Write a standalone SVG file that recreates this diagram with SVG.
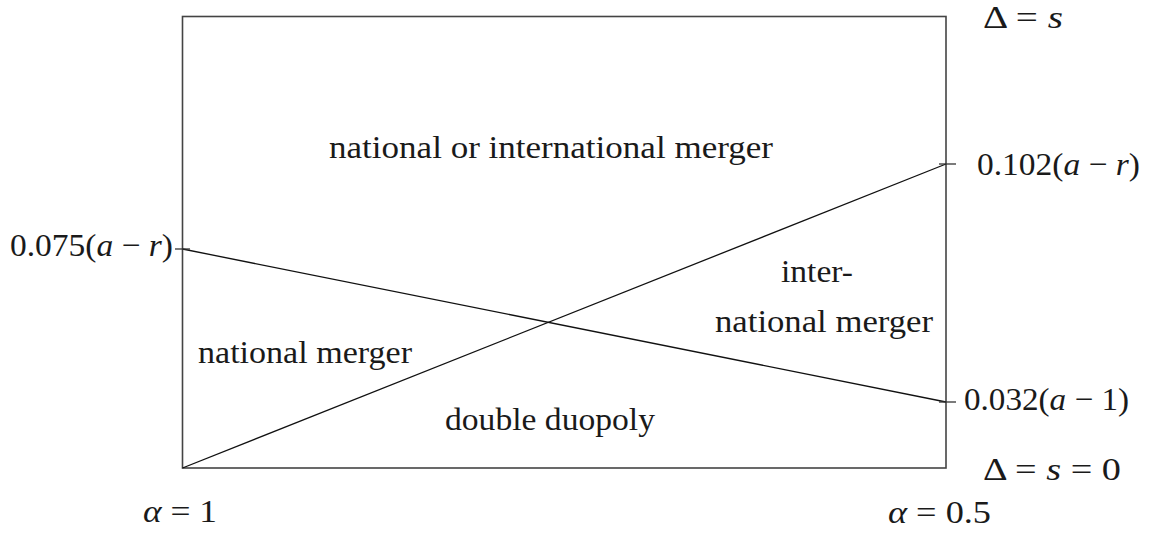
<svg xmlns="http://www.w3.org/2000/svg" width="1153" height="534" viewBox="0 0 1153 534">
<style>
text{font-family:"Liberation Serif","Times New Roman",serif;font-size:32px;fill:#1a1a1a}
.i{font-style:italic}
.box{fill:none;stroke:#444;stroke-width:1.6}
.ln{fill:none;stroke:#111;stroke-width:1.3}
.tk{stroke:#333;stroke-width:1.3}
</style>
<rect width="1153" height="534" fill="#fff"/>
<g id="frame">
<rect class="box" x="182.5" y="16.5" width="763.5" height="451.5"/>
</g>
<g id="connectors">
<line class="ln" x1="182.5" y1="468" x2="946" y2="164"/>
<line class="ln" x1="182.5" y1="249" x2="946" y2="402"/>
<line class="tk" x1="175" y1="249" x2="190" y2="249"/>
<line class="tk" x1="939" y1="164" x2="956" y2="164"/>
<line class="tk" x1="939" y1="402" x2="956" y2="402"/>
</g>
<g id="labels">
<text x="983" y="28" textLength="80" lengthAdjust="spacingAndGlyphs">Δ = <tspan class="i">s</tspan></text>
<text x="977" y="175" textLength="163" lengthAdjust="spacingAndGlyphs">0.102(<tspan class="i">a</tspan> − <tspan class="i">r</tspan>)</text>
<text x="10" y="256" textLength="163" lengthAdjust="spacingAndGlyphs">0.075(<tspan class="i">a</tspan> − <tspan class="i">r</tspan>)</text>
<text x="964" y="410" textLength="165" lengthAdjust="spacingAndGlyphs">0.032(<tspan class="i">a</tspan> − 1)</text>
<text x="983" y="480" textLength="138" lengthAdjust="spacingAndGlyphs">Δ = <tspan class="i">s</tspan> = 0</text>
<text x="143" y="522" textLength="74" lengthAdjust="spacingAndGlyphs"><tspan class="i">α</tspan> = 1</text>
<text x="888" y="523" textLength="103" lengthAdjust="spacingAndGlyphs"><tspan class="i">α</tspan> = 0.5</text>
</g>
<g id="region-top">
<text x="329" y="158" textLength="444" lengthAdjust="spacingAndGlyphs">national or international merger</text>
</g>
<g id="region-right">
<text x="781" y="282" textLength="72" lengthAdjust="spacingAndGlyphs">inter-</text>
<text x="715" y="332" textLength="218" lengthAdjust="spacingAndGlyphs">national merger</text>
</g>
<g id="region-left">
<text x="198" y="363" textLength="214" lengthAdjust="spacingAndGlyphs">national merger</text>
</g>
<g id="region-bottom">
<text x="445" y="430" textLength="210" lengthAdjust="spacingAndGlyphs">double duopoly</text>
</g>
</svg>
